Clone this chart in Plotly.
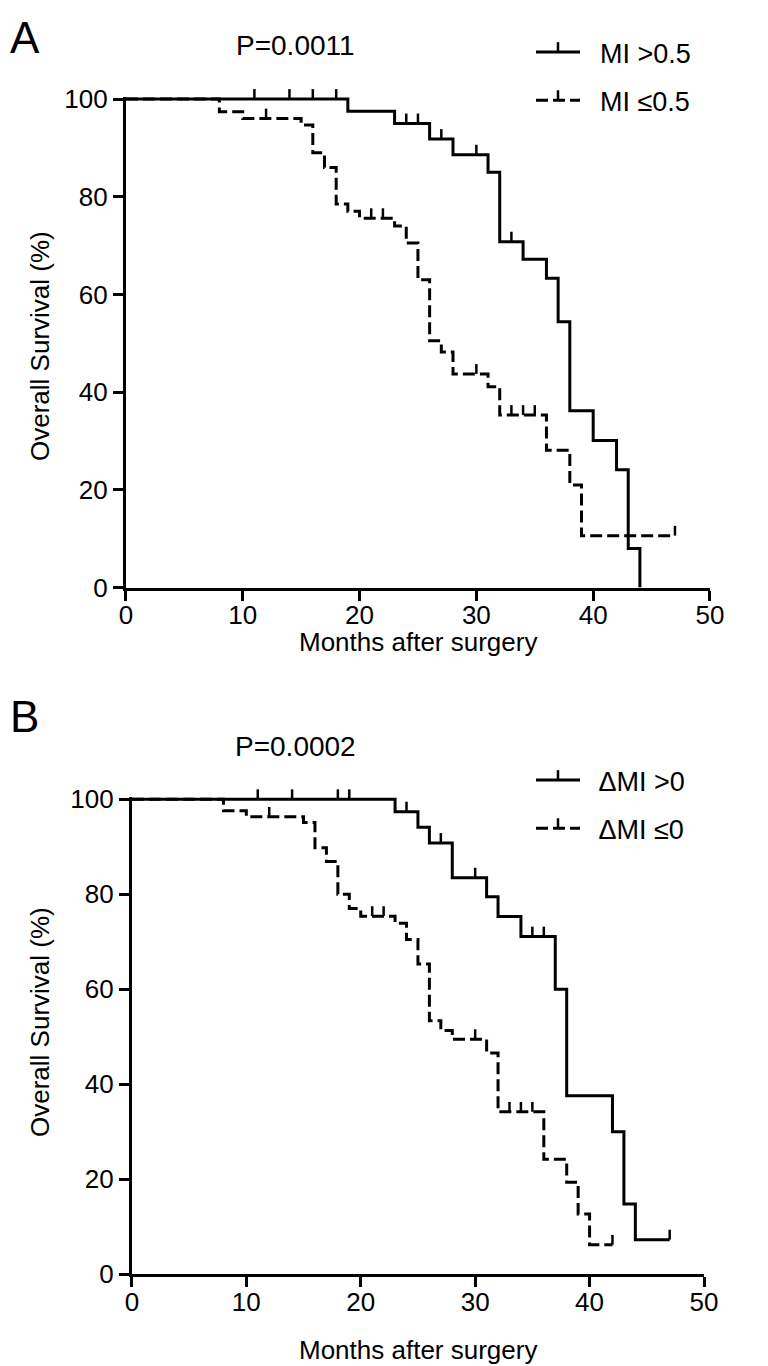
import plotly.graph_objects as go

# ---------------- data ----------------
# Panel A: MI > 0.5 (solid)
months_A_hi = [19, 23, 26, 28, 31, 32, 34, 36, 37, 38, 40, 42, 43, 44]
surv_A_hi = [97.5, 95.0, 91.8, 88.6, 85.0, 70.8, 67.2, 63.3, 54.4, 36.2, 30.1, 24.1, 8.0, 0.0]
censor_A_hi = [11, 14, 16, 18, 24, 25, 27, 30, 33]
end_A_hi = 44

# Panel A: MI <= 0.5 (dashed)
months_A_lo = [8, 10, 15, 16, 17, 18, 19, 20, 23, 24, 25, 26, 27, 28, 31, 32, 36, 38, 39]
surv_A_lo = [97.4, 96.0, 94.7, 89.0, 86.0, 78.5, 77.0, 75.6, 74.0, 70.5, 63.0, 50.5, 48.2, 43.7,
             41.1, 35.3, 28.1, 21.0, 10.6]
censor_A_lo = [12, 21, 22, 30, 33, 34, 35, 47]
end_A_lo = 47

# Panel B: dMI > 0 (solid)
months_B_hi = [23, 25, 26, 28, 31, 32, 34, 37, 38, 42, 43, 44]
surv_B_hi = [97.4, 94.1, 90.8, 83.5, 79.5, 75.3, 71.1, 60.0, 37.6, 30.0, 14.8, 7.3]
censor_B_hi = [11, 14, 18, 19, 24, 27, 30, 35, 36, 47]
end_B_hi = 47

# Panel B: dMI <= 0 (dashed)
months_B_lo = [8, 10, 15, 16, 17, 18, 19, 20, 23, 24, 25, 26, 27, 28, 31, 32, 36, 38, 39, 40]
surv_B_lo = [97.6, 96.3, 95.1, 89.8, 86.9, 80.0, 77.0, 75.4, 73.9, 70.5, 65.3, 53.4, 51.3, 49.5,
             46.6, 34.2, 24.2, 19.4, 12.7, 6.2]
censor_B_lo = [12, 21, 22, 30, 33, 34, 35, 42]
end_B_lo = 42

names_A = ["MI >0.5", "MI ≤0.5"]
names_B = ["ΔMI >0", "ΔMI ≤0"]
panel_labels = ["A", "B"]
p_values = ["P=0.0011", "P=0.0002"]
x_title = "Months after surgery"
y_title = "Overall Survival (%)"

# ---------------- styling ----------------
FONT = "Liberation Sans, Arial, Helvetica, sans-serif"
W, H = 768, 1366
LW = 3
DASH = "12px,5px"


def level_at(t, months, surv):
    lvl = 100.0
    for m, s in zip(months, surv):
        if m <= t:
            lvl = s
    return lvl


def step_path(months, surv, end):
    x = [0] + list(months)
    y = [100.0] + list(surv)
    if end > months[-1]:
        x.append(end)
        y.append(surv[-1])
    return x, y


fig = go.Figure()

panels = [
    dict(xa="x", ya="y", leg="legend", names=names_A,
         curves=[(months_A_hi, surv_A_hi, censor_A_hi, end_A_hi, "solid"),
                 (months_A_lo, surv_A_lo, censor_A_lo, end_A_lo, DASH)]),
    dict(xa="x2", ya="y2", leg="legend2", names=names_B,
         curves=[(months_B_hi, surv_B_hi, censor_B_hi, end_B_hi, "solid"),
                 (months_B_lo, surv_B_lo, censor_B_lo, end_B_lo, DASH)]),
]

# censor ticks: vertical bars lifted above the curve
tick_marker = dict(symbol="line-ns", size=7, angle=180, standoff=5,
                   color="black", line=dict(color="black", width=2.5))
# legends invert the standoff, so the legend sample uses the opposite angle
legend_marker = dict(symbol="line-ns", size=7, angle=0, standoff=5,
                     color="black", line=dict(color="black", width=2.5))

for p in panels:
    for (months, surv, cens, end, dash), name in zip(p["curves"], p["names"]):
        x, y = step_path(months, surv, end)
        fig.add_trace(go.Scatter(
            x=x, y=y, mode="lines", line=dict(shape="hv", color="black", width=LW, dash=dash),
            xaxis=p["xa"], yaxis=p["ya"], showlegend=False, hoverinfo="skip"))
        cy = [level_at(t, months, surv) for t in cens]
        fig.add_trace(go.Scatter(
            x=cens, y=cy, mode="markers", marker=tick_marker, cliponaxis=False,
            xaxis=p["xa"], yaxis=p["ya"], showlegend=False, hoverinfo="skip"))
        # legend entry (leading spaces give the gap between sample and text)
        fig.add_trace(go.Scatter(
            x=[None], y=[None], mode="lines+markers", name="  " + name,
            line=dict(color="black", width=LW, dash=dash), marker=legend_marker,
            xaxis=p["xa"], yaxis=p["ya"], legend=p["leg"], legendgroup=p["leg"] + name))

axis_common = dict(
    showgrid=False, zeroline=False, showline=True, linewidth=LW, linecolor="black",
    ticks="outside", ticklen=10, tickwidth=LW, tickcolor="black",
    tickfont=dict(family=FONT, size=26, color="black"), automargin=False, fixedrange=True)

fig.update_layout(
    width=W, height=H, plot_bgcolor="white", paper_bgcolor="white",
    margin=dict(l=0, r=0, t=0, b=0),
    font=dict(family=FONT, color="black"),
    xaxis=dict(domain=[0.16393, 0.92448], range=[0, 50], tickmode="linear", tick0=0, dtick=10,
               anchor="y", ticklabelstandoff=-8, **axis_common),
    yaxis=dict(domain=[0.56991, 0.92931], range=[0, 100.5], tickmode="linear", tick0=0, dtick=20,
               anchor="x", **axis_common),
    xaxis2=dict(domain=[0.17174, 0.91667], range=[0, 50], tickmode="linear", tick0=0, dtick=10,
                anchor="y2", ticklabelstandoff=-8, **axis_common),
    yaxis2=dict(domain=[0.06713, 0.41662], range=[0, 100.5], tickmode="linear", tick0=0, dtick=20,
                anchor="x2", **axis_common),
    legend=dict(x=531 / W, y=1 - 28 / H, xanchor="left", yanchor="top", itemwidth=44,
                tracegroupgap=10, bgcolor="rgba(0,0,0,0)", font=dict(family=FONT, size=27)),
    legend2=dict(x=531 / W, y=1 - 756 / H, xanchor="left", yanchor="top", itemwidth=44,
                 tracegroupgap=10, bgcolor="rgba(0,0,0,0)", font=dict(family=FONT, size=27)),
)

ann = []
# panel letters and p-values
for lab, ly, pv, py in [(panel_labels[0], 38, p_values[0], 46), (panel_labels[1], 716, p_values[1], 746)]:
    ann.append(dict(text=lab, x=8 / W, y=1 - ly / H, xref="paper", yref="paper", xanchor="left",
                    yanchor="middle", showarrow=False, font=dict(family=FONT, size=44)))
    ann.append(dict(text=pv, x=295 / W, y=1 - py / H, xref="paper", yref="paper", xanchor="center",
                    yanchor="middle", showarrow=False, font=dict(family=FONT, size=28)))
# axis titles
for cx, ty, cy in [(418, 642, 346), (418, 1350, 1022)]:
    ann.append(dict(text=x_title, x=cx / W, y=1 - ty / H, xref="paper", yref="paper",
                    xanchor="center", yanchor="middle", showarrow=False,
                    font=dict(family=FONT, size=26)))
    ann.append(dict(text=y_title, x=40 / W, y=1 - cy / H, xref="paper", yref="paper",
                    xanchor="center", yanchor="middle", textangle=-90, showarrow=False,
                    font=dict(family=FONT, size=26)))
fig.update_layout(annotations=ann)

fig.write_html("out.html", config={"displayModeBar": False},
               post_script="document.body.style.margin='0px';document.body.style.overflow='hidden';")
